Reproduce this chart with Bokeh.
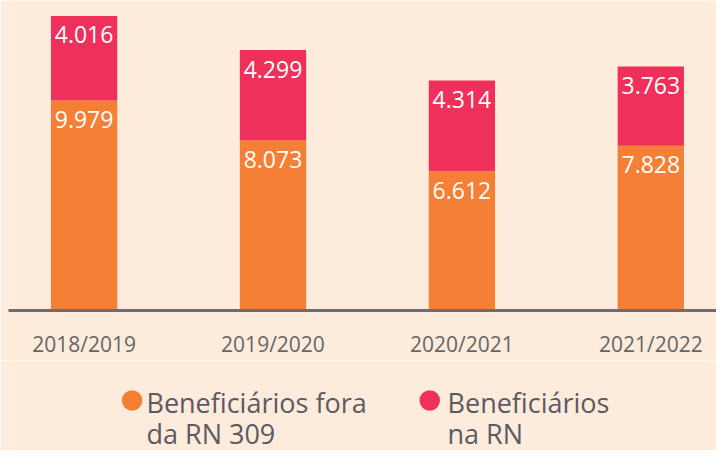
import re
from bokeh.plotting import figure
from bokeh.layouts import column
from bokeh.models import ColumnDataSource, FixedTicker, Range1d
from bokeh.core.properties import value
from bokeh.embed import file_html
from bokeh.resources import INLINE

# --- data ---
periods = ["2018/2019", "2019/2020", "2020/2021", "2021/2022"]
fora_rn = [9979, 8073, 6612, 7828]      # Beneficiários fora da RN 309
na_rn = [4016, 4299, 4314, 3763]        # Beneficiários na RN
legend_labels = [["Beneficiários fora", "da RN 309"], ["Beneficiários", "na RN"]]

BG = "#FDEBDC"
ORANGE = "#F47F35"
PINK = "#EE305B"
AXIS = "#6D6B74"
TICK_TXT = "#666666"
LEG_TXT = "#5B5A63"
FONT = "Open Sans"

xs = list(range(len(periods)))
tops = [a + b for a, b in zip(fora_rn, na_rn)]
fmt = lambda v: f"{v:,}".replace(",", ".")

src = ColumnDataSource(dict(
    x=xs, fora=fora_rn, na=na_rn, top=tops,
    fora_txt=[fmt(v) for v in fora_rn], na_txt=[fmt(v) for v in na_rn],
))

W = 716
H1, H2 = 360, 90
frame_left = 8
px_per_cat = 188.9
frame_h = 314
ymax = frame_h / 0.02132
x0 = -(83.6 - frame_left) / px_per_cat

p = figure(width=W, height=H1, output_backend="svg", toolbar_location=None,
           x_range=(x0, x0 + (W - frame_left) / px_per_cat), y_range=(0, ymax),
           min_border_left=frame_left, min_border_right=0, min_border_top=0,
           min_border_bottom=H1 - frame_h)
p.background_fill_color = BG
p.border_fill_color = BG
p.outline_line_color = None
p.grid.visible = False
p.yaxis.visible = False

p.vbar_stack(["fora", "na"], x="x", width=66.3 / px_per_cat, source=src,
             color=[ORANGE, PINK], line_color=None)

for col, ycol in (("fora_txt", "fora"), ("na_txt", "top")):
    p.text(x="x", y=ycol, text=col, source=src, text_color="white",
           text_font=value(FONT), text_font_size="23px", text_align="center",
           text_baseline="middle", y_offset=19)

ax = p.xaxis[0]
ax.ticker = FixedTicker(ticks=xs)
ax.major_label_overrides = {i: s for i, s in zip(xs, periods)}
ax.axis_line_width = 3
ax.axis_line_color = AXIS
ax.major_tick_line_color = None
ax.minor_tick_line_color = None
ax.major_label_text_font = FONT
ax.major_label_text_font_size = "21px"
ax.major_label_text_color = TICK_TXT
ax.major_label_standoff = 13

# legend figure (its ranges equal its pixel size)
q = figure(width=W, height=H2, output_backend="svg", toolbar_location=None,
           x_range=Range1d(0, W), y_range=Range1d(0, H2),
           min_border_left=0, min_border_right=0, min_border_top=0,
           min_border_bottom=0)
q.background_fill_color = BG
q.border_fill_color = BG
q.outline_line_color = None
q.grid.visible = False
q.axis.visible = False

leg_colors = [ORANGE, PINK]
dot_x = [125.0, 426.0]
txt_x = [139.5, 444.0]
q.scatter(x=dot_x, y=[50.0, 50.0], size=20.5, color=leg_colors, line_color=None)
lx, ly, lt = [], [], []
for tx, lines in zip(txt_x, legend_labels):
    for i, line in enumerate(lines):
        lx.append(tx)
        ly.append(48.5 - 31 * i)
        lt.append(line)
q.text(x=lx, y=ly, text=lt, text_color=LEG_TXT, text_font=value(FONT),
       text_font_size="27px", text_baseline="alphabetic", text_align="left")

root = column(p, q, spacing=0)
html = file_html(root, INLINE)
html = re.sub(r"<body([^>]*)>", r'<body\1 style="background-color:%s;">' % BG, html, count=1)
open("out.html", "w").write(html)
